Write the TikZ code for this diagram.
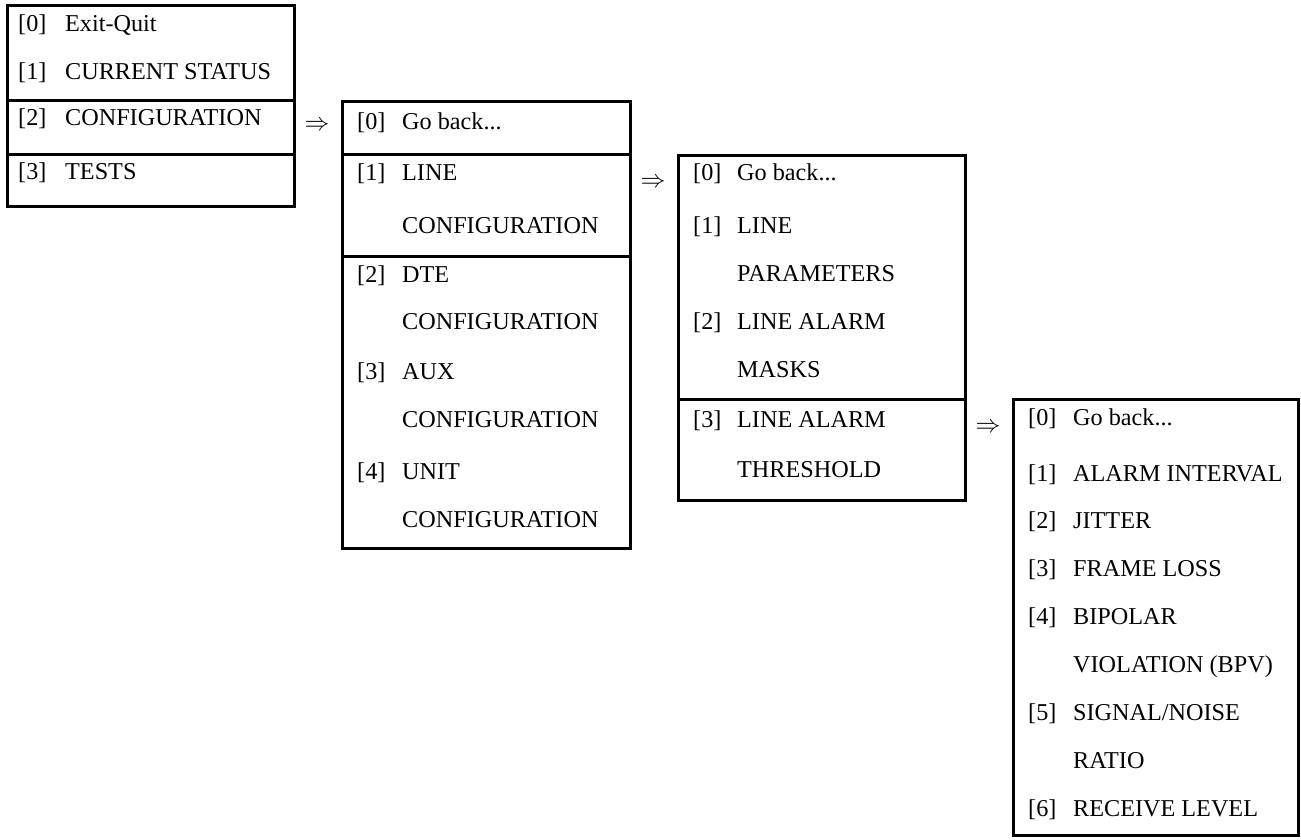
\documentclass[tikz,border=0pt]{standalone}
\usepackage{fontspec}
\setmainfont{Liberation Serif}
\begin{document}
\begin{tikzpicture}[x=1pt,y=-1pt,
  menubox/.style={draw=black,line width=3pt},
  divider/.style={draw=black,line width=3pt},
  item/.style={anchor=base west,inner sep=0pt,font=\fontsize{24.2pt}{28pt}\selectfont},
  goto/.style={anchor=center,inner sep=0pt,font=\fontsize{24.2pt}{28pt}\selectfont}]
\useasboundingbox (0,0) rectangle (1301,839);

% ---- menu 1
\draw[menubox] (7,5) rectangle (294,206);
\draw[divider] (7,100) -- (294,100);
\draw[divider] (7,154) -- (294,154);
\node[item] (a0n) at (18,31) {[0]};  \node[item] (a0t) at (65,31) {Exit-Quit};
\node[item] (a1n) at (18,79) {[1]};  \node[item] (a1t) at (65,79) {CURRENT STATUS};
\node[item] (a2n) at (18,125) {[2]}; \node[item] (a2t) at (65,125) {CONFIGURATION};
\node[item] (a3n) at (18,179) {[3]}; \node[item] (a3t) at (65,179) {TESTS};

\node[goto] (arr1) at (317,126) {$\Rightarrow$};

% ---- menu 2
\draw[menubox] (342,101) rectangle (630,548);
\draw[divider] (342,154) -- (630,154);
\draw[divider] (342,256) -- (630,256);
\node[item] (b0n) at (357,129) {[0]}; \node[item] (b0t) at (402,129) {Go back...};
\node[item] (b1n) at (357,180) {[1]}; \node[item] (b1t) at (402,180) {LINE};
\node[item] (b1u) at (402,233) {CONFIGURATION};
\node[item] (b2n) at (357,282) {[2]}; \node[item] (b2t) at (402,282) {DTE};
\node[item] (b2u) at (402,329) {CONFIGURATION};
\node[item] (b3n) at (357,379) {[3]}; \node[item] (b3t) at (402,379) {AUX};
\node[item] (b3u) at (402,427) {CONFIGURATION};
\node[item] (b4n) at (357,479) {[4]}; \node[item] (b4t) at (402,479) {UNIT};
\node[item] (b4u) at (402,527) {CONFIGURATION};

\node[goto] (arr2) at (653,183) {$\Rightarrow$};

% ---- menu 3
\draw[menubox] (678,155) rectangle (965,500);
\draw[divider] (678,399) -- (965,399);
\node[item] (c0n) at (693,180) {[0]}; \node[item] (c0t) at (737,180) {Go back...};
\node[item] (c1n) at (693,233) {[1]}; \node[item] (c1t) at (737,233) {LINE};
\node[item] (c1u) at (737,281) {PARAMETERS};
\node[item] (c2n) at (693,329) {[2]}; \node[item] (c2t) at (737,329) {LINE ALARM};
\node[item] (c2u) at (737,377) {MASKS};
\node[item] (c3n) at (693,427) {[3]}; \node[item] (c3t) at (737,427) {LINE ALARM};
\node[item] (c3u) at (737,477) {THRESHOLD};

\node[goto] (arr3) at (988,428) {$\Rightarrow$};

% ---- menu 4
\draw[menubox] (1013,399) rectangle (1298,835);
\node[item] (d0n) at (1028,425) {[0]}; \node[item] (d0t) at (1073,425) {Go back...};
\node[item] (d1n) at (1028,481) {[1]}; \node[item] (d1t) at (1073,481) {ALARM INTERVAL};
\node[item] (d2n) at (1028,528) {[2]}; \node[item] (d2t) at (1073,528) {JITTER};
\node[item] (d3n) at (1028,576) {[3]}; \node[item] (d3t) at (1073,576) {FRAME LOSS};
\node[item] (d4n) at (1028,624) {[4]}; \node[item] (d4t) at (1073,624) {BIPOLAR};
\node[item] (d4u) at (1073,672) {VIOLATION (BPV)};
\node[item] (d5n) at (1028,720) {[5]}; \node[item] (d5t) at (1073,720) {SIGNAL/NOISE};
\node[item] (d5u) at (1073,768) {RATIO};
\node[item] (d6n) at (1028,816) {[6]}; \node[item] (d6t) at (1073,816) {RECEIVE LEVEL};
\end{tikzpicture}
\end{document}
